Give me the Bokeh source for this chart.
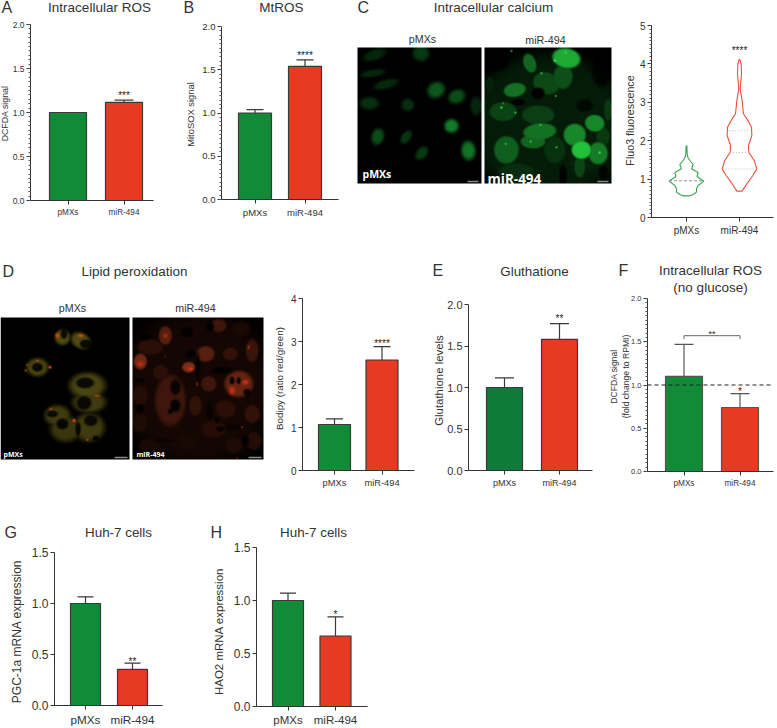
import numpy as np
from bokeh.plotting import figure
from bokeh.layouts import row, column
from bokeh.core.properties import value
from bokeh.models import (Range1d, FixedTicker, Whisker, TeeHead, Label,
                          ColumnDataSource, Span)
from bokeh.embed import file_html
from bokeh.resources import INLINE

# ---------- data ----------
groups = ["pMXs", "miR-494"]
a_vals, a_errs = [1.0, 1.115], [1.0, 1.14]
b_vals, b_errs = [1.0, 1.54], [1.04, 1.615]
d_vals, d_errs = [1.07, 2.57], [1.2, 2.88]
e_vals, e_errs = [1.0, 1.58], [1.115, 1.77]
f_vals, f_errs = [1.1, 0.74], [1.47, 0.9]
g_vals, g_errs = [1.0, 0.355], [1.065, 0.415]
h_vals, h_errs = [1.0, 0.665], [1.07, 0.845]

violin_green_y = [1.866, 1.658, 1.571, 1.484, 1.380, 1.267, 1.172, 1.068, 0.946, 0.833, 0.747, 0.660, 0.599, 0.564]
violin_green_w = [.006, .013, .025, .063, .126, .094, .22, .2, .327, .22, .189, .189, .126, .063]
violin_red_y = [4.115, 4.00, 3.74, 3.35, 3.05, 2.70, 2.53, 2.35, 2.135, 1.875, 1.70, 1.484, 1.267, 1.094, 0.877, 0.686]
violin_red_w = [.006, .031, .038, .013, .05, .075, .157, .226, .233, .17, .176, .277, .327, .252, .138, .05]
green_median, green_median_w = 0.955, .33
red_quart = [2.26, 1.695, 1.265]
red_quart_w = [.2, .18, .32]

GREEN, DGREEN, RED = "#128a38", "#0f7a3a", "#e63a22"
INK = "#333333"
FONT = "Liberation Sans"
W, H = 777, 728


def new_fig(box, frame=None):
    x0, x1, y0, y1 = box
    fx0, fx1, ft, fb = frame if frame else box
    p = figure(width=x1 - x0, height=y1 - y0, output_backend="svg", toolbar_location=None,
               min_border_left=fx0 - x0, min_border_right=x1 - fx1,
               min_border_top=ft - y0, min_border_bottom=y1 - fb)
    p.frame_align = False
    return p


# a transparent sheet over the whole page that carries titles, panel letters and axis titles
sheet = new_fig((0, W, 0, H))
sheet.x_range = Range1d(0, W)
sheet.y_range = Range1d(0, H)
sheet.axis.visible = False
sheet.grid.visible = False
sheet.outline_line_color = None
sheet.background_fill_color = None
sheet.border_fill_color = None
sheet.styles = {"position": "absolute", "left": "0px", "top": "0px", "z-index": "10", "pointer-events": "none"}


def text(s, x, y, size, align="center", color=INK, bold=False, font=FONT, angle=0):
    sheet.add_layout(Label(x=x, y=H - y, x_units="data", y_units="data", text=s,
                           text_font=font, text_font_size=f"{size}px", text_align=align,
                           text_baseline="middle", text_color=color, angle=angle,
                           text_font_style="bold" if bold else "normal"))


def chart(box, frame, centers, ymax, interval, minors, tick_fs, x_fs, ylab, ylab_fs, ylab_x, ylab_y):
    p = new_fig(box, frame)
    c1, c2 = centers
    s = c2 - c1
    p.x_range = Range1d((frame[0] - c1) / s, (frame[1] - c1) / s)
    p.y_range = Range1d(0, ymax)
    p.grid.visible = False
    p.outline_line_color = None
    xa, ya = p.xaxis[0], p.yaxis[0]
    xa.ticker = FixedTicker(ticks=[0, 1])
    xa.major_label_overrides = {0: groups[0], 1: groups[1]}
    n_major = int(round(ymax / interval))
    majors = [round(i * interval, 3) for i in range(n_major + 1)]
    minor_list = [round(i * interval / minors, 4) for i in range(n_major * minors + 1)] if minors else []
    ya.ticker = FixedTicker(ticks=majors, minor_ticks=minor_list)
    if interval < 1:
        ya.major_label_overrides = {m: f"{m:.1f}" for m in majors}
    for ax in (xa, ya):
        ax.axis_line_color = INK
        ax.axis_line_width = 1
        ax.major_tick_line_color = INK
        ax.minor_tick_line_color = "#555555"
        ax.minor_tick_line_width = 1
        ax.major_tick_out = 4
        ax.major_tick_in = 0
        ax.minor_tick_out = 2
        ax.minor_tick_in = 0
        ax.major_label_text_font = FONT
        ax.major_label_text_color = INK
    xa.minor_tick_line_color = None
    xa.major_label_text_font_size = f"{x_fs}px"
    xa.major_label_standoff = 3
    ya.major_label_text_font_size = f"{tick_fs}px"
    ya.major_label_standoff = 2
    for line, lx in zip(ylab, ylab_x):
        text(line, lx, ylab_y, ylab_fs, angle=np.pi / 2)
    return p


def stars_at(p, xs, ys, labels, off, fs=10):
    p.text(x=xs, y=ys, text=labels, text_align="center", text_baseline="alphabetic", y_offset=off,
           text_font=value(FONT), text_font_size=f"{fs}px", text_color="#222222")


def bars(p, centers, bw, vals, errs, star, colors, cap, off, line="#3a3a3a"):
    s = centers[1] - centers[0]
    p.vbar(x=[0, 1], top=vals, width=bw / s, fill_color=colors, line_color=line, line_width=1.2)
    src = ColumnDataSource(dict(x=[0, 1], lo=vals, up=errs))
    p.add_layout(Whisker(source=src, base="x", lower="lo", upper="up", line_color=line, line_width=1.2,
                         upper_head=TeeHead(size=cap, line_color=line, line_width=1.2), lower_head=None))
    stars_at(p, [1], [errs[1]], [star], off)


# ---------- row 1 ----------
R1 = 0, 240
box = (0, 180) + R1
fr = (30, 153, 24, 200)
pA = chart(box, fr, (67.5, 123.5), 2, .5, 10, 8.5, 8.2, ["DCFDA signal"], 8.8, [4.5], 113)
bars(pA, (67.5, 123.5), 37, a_vals, a_errs, "***", [GREEN, RED], 19, -5)
text("A", 1, 7, 16, "left")
text("Intracellular ROS", 99, 7, 13.5)

box = (180, 345) + R1
fr = (221, 338, 26, 199)
pB = chart(box, fr, (254.5, 304.5), 2, .5, 10, 9.6, 9.5, ["MitoSOX signal"], 9.4, [190], 114)
bars(pB, (254.5, 304.5), 33, b_vals, b_errs, "****", [GREEN, RED], 17, -4)
text("B", 183, 7, 16, "left")
text("MtROS", 281, 7, 13.5)


def paint(shape, layers):
    h, w = shape
    yy, xx = np.mgrid[0:h, 0:w].astype(float)
    xx = (xx + .5) * 1.5
    yy = (yy + .5) * 1.5
    img = np.zeros((h, w, 3))
    for mode, color, edge, cells in layers:
        color = np.array(color, float)
        for (cx, cy, a, b, ang, br) in cells:
            t = np.radians(ang)
            dx, dy = xx - cx, yy - cy
            u = (dx * np.cos(t) + dy * np.sin(t)) / a
            v = (-dx * np.sin(t) + dy * np.cos(t)) / b
            r = np.sqrt(u * u + v * v)
            f = np.clip((1 - r) / edge, 0, 1)
            f = (f * f * (3 - 2 * f))[..., None]
            if mode == "max":
                img = np.maximum(img, f * color * br)
            elif mode == "dark":
                img = img * (1 - f * br)
            else:
                img = img * (1 - f * br) + color * f * br
    rgba = np.zeros((h, w), dtype=np.uint32)
    v = rgba.view(np.uint8).reshape(h, w, 4)
    v[..., :3] = np.clip(img, 0, 255).astype(np.uint8)
    v[..., 3] = 255
    return rgba[::-1]


def micro(p, ix0, ix1, iy0, iy1, layers):
    w, h = ix1 - ix0, iy1 - iy0
    arr = paint((h * 2, w * 2), layers)
    p.image_rgba(image=[arr], x=ix0, y=H - iy1, dw=w, dh=h)


def scalebar(p, x0, x1, y):
    p.line([x0, x1], [H - y, H - y], line_color="#8a8a8a", line_width=1.5)


def image_fig(box):
    p = new_fig(box)
    p.x_range = Range1d(box[0], box[1])
    p.y_range = Range1d(H - box[3], H - box[2])
    p.axis.visible = False
    p.grid.visible = False
    p.outline_line_color = None
    return p


GLOW = (40, 225, 70)
GLOW_DIM = (30, 190, 62)
c_left = [(50, 23, 50, 22, -20, .2), (190, 18, 34, 32, 0, .3), (45, 78, 52, 16, -10, .2), (85, 111, 52, 19, -15, .22),
          (35, 168, 40, 26, 0, .25), (150, 173, 26, 26, 0, .25), (235, 128, 37, 32, -30, .45), (297, 148, 36, 28, -25, .4),
          (355, 176, 24, 38, 0, .2), (281, 236, 29, 28, 0, .65), (60, 268, 26, 34, 15, .4), (145, 270, 19, 31, 35, .28),
          (192, 318, 21, 32, 40, .3), (332, 310, 29, 39, -5, .6), (75, 393, 18, 12, 0, .15)]
c_right = [(190, 240, 280, 260, 0, .12), (135, 48, 22, 35, -20, .45), (245, 33, 50, 35, 10, .75), (235, 88, 35, 45, 0, .35),
           (185, 108, 50, 40, 20, .32), (90, 128, 40, 25, -10, .5), (55, 193, 50, 35, 0, .3), (160, 203, 60, 35, 0, .28),
           (305, 128, 35, 50, 0, .12), (165, 253, 60, 30, -5, .5), (65, 308, 45, 50, 0, .42), (210, 308, 40, 50, 0, .22),
           (145, 283, 45, 25, 0, .45), (270, 263, 40, 40, -20, .6), (290, 308, 35, 32, 0, .85), (340, 318, 35, 40, 0, .55),
           (330, 228, 35, 30, 10, .6), (285, 358, 20, 40, 0, .3), (370, 188, 15, 40, 0, .25), (355, 268, 25, 35, 0, .25),
           (95, 373, 70, 30, 0, .2), (15, 113, 15, 30, 0, .15), (305, 348, 70, 25, 0, .15)]
c_right_dark = [(160, 138, 24, 21, 0, 1), (100, 165, 26, 12, 0, .9), (30, 40, 55, 40, 0, 1), (350, 70, 35, 60, 0, .8),
                (235, 385, 14, 40, 0, .9), (300, 175, 30, 22, 0, .7), (355, 375, 16, 26, 0, .8)]
c_right_spots = [(80, 11, 4, 4, 0, 1), (243, 16, 4, 4, 0, 1), (210, 40, 5, 5, 0, 1), (170, 78, 4, 4, 0, 1), (213, 146, 4, 4, 0, 1),
                 (50, 181, 5, 5, 0, 1), (92, 196, 4, 4, 0, 1), (55, 168, 3, 3, 0, 1), (167, 233, 4, 4, 0, 1), (138, 283, 4, 4, 0, 1),
                 (63, 290, 4, 4, 0, 1), (215, 300, 4, 4, 0, 1), (345, 316, 5, 5, 0, 1)]

box = (345, 618) + R1
pC = image_fig(box)
micro(pC, 357, 481, 47, 183, [("max", GLOW_DIM, .6, c_left)])
micro(pC, 484, 611, 47, 183, [("max", GLOW, .3, c_right), ("dark", GLOW, .4, c_right_dark), ("over", (70, 255, 90), .8, c_right_spots)])
scalebar(pC, 467, 478, 181)
scalebar(pC, 597, 608, 181)
text("C", 357, 7, 16, "left")
text("Intracellular calcium", 493, 7, 13.5)
text(groups[0], 422, 38, 10.7)
text(groups[1], 545, 39, 10.7)
text(groups[0], 362, 173, 10.5, "left", "white", True, "Open Sans")
text(groups[1], 487, 178, 13.5, "left", "white", True, "Open Sans")

box = (618, 777) + R1
fr = (651, 773, 25, 217)
cent = (686, 739)
pV = chart(box, fr, cent, 5, 1, 10, 10, 10, ["Fluo3 fluorescence"], 10.7, [629], 120)
for c, ys, ws, col in ((0, violin_green_y, violin_green_w, "#37a34f"), (1, violin_red_y, violin_red_w, "#ef4f3a")):
    ys, ws = np.array(ys), np.array(ws)
    xs = np.concatenate([c - ws, (c + ws)[::-1]])
    yy = np.concatenate([ys, ys[::-1]])
    p_x, p_y = list(xs) + [xs[0]], list(yy) + [yy[0]]
    pV.line(p_x, p_y, line_color=col, line_width=1.1)
pV.segment(x0=[-green_median_w], x1=[green_median_w], y0=[green_median], y1=[green_median],
           line_color="#8f8f8f", line_dash="3 2", line_width=1)
pV.segment(x0=[1 - w for w in red_quart_w], x1=[1 + w for w in red_quart_w], y0=red_quart, y1=red_quart,
           line_color="#b5bfae", line_dash="1 2", line_width=1)
stars_at(pV, [1], [violin_red_y[0]], ["****"], -9)

# ---------- row 2 ----------
R2 = 240, 490
d_left = [(185, 60, 30, 30, 0, .75), (240, 70, 40, 30, 30, .75), (110, 150, 42, 35, 0, .7), (260, 205, 70, 50, 0, .7),
          (265, 255, 65, 40, 0, .6), (170, 295, 50, 40, 0, .6), (195, 335, 60, 50, 0, .55), (265, 330, 60, 55, 0, .6)]
d_left_nuc = [(190, 50, 12, 18, 0, .85), (255, 80, 22, 16, 0, .85), (110, 150, 20, 16, 0, .85), (253, 197, 33, 20, 0, .85),
              (250, 257, 27, 25, 0, .85), (155, 290, 20, 12, 0, .85), (185, 320, 22, 20, 0, .85), (270, 310, 25, 20, 0, .85),
              (232, 335, 10, 25, 0, .85), (285, 363, 12, 10, 0, .85)]
d_left_spots = [(170, 55, 9, 11, 0, .8), (240, 55, 13, 7, 0, .8), (80, 143, 4, 4, 0, .9), (75, 160, 5, 5, 0, .9), (110, 130, 5, 4, 0, .9),
                (148, 150, 7, 7, 0, .95), (220, 310, 7, 7, 0, 1), (260, 368, 5, 5, 0, .9), (290, 235, 16, 6, 0, .5), (150, 275, 9, 5, 0, .6)]
d_right = [(195, 215, 280, 290, 0, .16), (98, 55, 25, 35, 0, .7), (23, 133, 25, 30, 0, .9), (258, 25, 30, 25, 0, .5), (218, 110, 35, 30, 0, .7), (168, 150, 25, 20, 0, 1),
           (53, 90, 50, 30, 0, .35), (293, 110, 30, 25, 0, .4), (358, 100, 25, 45, 0, .45), (83, 165, 30, 30, 0, .35),
           (113, 250, 60, 100, 0, .5), (228, 200, 30, 30, 0, .5), (318, 200, 55, 50, 0, .8), (358, 290, 30, 35, 0, .4),
           (278, 275, 40, 35, 0, .35), (188, 265, 25, 40, 0, .4), (23, 235, 30, 40, 0, .3), (23, 315, 30, 40, 0, .25),
           (243, 335, 50, 35, 0, .3), (363, 370, 30, 35, 0, .3), (303, 385, 35, 30, 0, .25), (163, 375, 40, 30, 0, .2),
           (53, 385, 45, 30, 0, .2), (323, 35, 40, 30, 0, .2)]
d_right_nuc = [(38, 60, 20, 13, 0, .85), (163, 45, 25, 20, 0, .85), (233, 30, 15, 20, 0, .85), (128, 210, 20, 30, 0, .85),
               (128, 265, 20, 25, 0, .9), (113, 282, 10, 10, 0, .9), (298, 190, 10, 15, 0, .9), (318, 190, 8, 13, 0, .9),
               (343, 225, 15, 13, 0, .9), (173, 110, 20, 15, 0, .85), (23, 275, 15, 20, 0, .85), (338, 370, 15, 18, 0, .85),
               (253, 310, 10, 10, 0, .85), (263, 335, 15, 10, 0, .85), (195, 150, 10, 60, 0, .7), (270, 160, 40, 14, 0, .8),
               (20, 190, 20, 10, 0, .7), (230, 280, 12, 40, 0, .6), (90, 370, 40, 8, 0, .5), (300, 330, 35, 10, 0, .6)]
d_right_spots = [(298, 220, 15, 20, 0, .7), (338, 195, 15, 12, 0, .8), (173, 155, 12, 8, 0, .85), (23, 140, 15, 12, 0, .65),
                 (98, 55, 10, 12, 0, .55), (328, 330, 4, 4, 0, 1), (313, 422, 3, 3, 0, 1), (193, 200, 2, 10, 0, .9),
                 (98, 118, 3, 3, 0, .9), (348, 90, 5, 10, 0, .7)]

box = (0, 268) + R2
pD = image_fig(box)
micro(pD, 0, 129, 317, 459, [("max", (105, 98, 25), .5, d_left), ("dark", (0, 0, 0), .4, d_left_nuc), ("over", (235, 75, 20), .8, d_left_spots)])
micro(pD, 132, 263, 317, 459, [("max", (125, 45, 22), .4, d_right), ("dark", (0, 0, 0), .5, d_right_nuc), ("over", (235, 50, 25), .9, d_right_spots)])
scalebar(pD, 114, 127, 457)
scalebar(pD, 248, 261, 457)
text("D", 2, 271, 16, "left")
text("Lipid peroxidation", 134, 271, 13.5)
text(groups[0], 72, 307, 10.7)
text(groups[1], 195, 307, 10.7)
text(groups[0], 3, 454, 7, "left", "white", True, "Open Sans")
text(groups[1], 136, 454, 7, "left", "white", True, "Open Sans")

box = (268, 425) + R2
fr = (302, 414, 298, 472)
cent = (334, 381.5)
pD2 = chart(box, fr, cent, 4, 1, 0, 10, 9.3, ["Bodipy (ratio red/green)"], 9.8, [279], 378)
bars(pD2, cent, 32, d_vals, d_errs, "****", [GREEN, RED], 17, -3)

box = (425, 605) + R2
fr = (468, 592, 304, 474)
cent = (504, 559)
pE = chart(box, fr, cent, 2, .5, 0, 11, 9, ["Glutathione levels"], 11.4, [438], 380)
bars(pE, cent, 36, e_vals, e_errs, "**", [DGREEN, RED], 19, -5)
text("E", 432, 270, 16, "left")
text("Gluthatione", 534, 271, 13.4)

box = (605, 777) + R2
fr = (647, 773, 298, 473)
cent = (683.5, 739.5)
pF = chart(box, fr, cent, 2, .5, 10, 7.5, 8.2, ["DCFDA signal", "(fold change to RPMI)"], 8.6, [613, 625], 376)
bars(pF, cent, 37, f_vals, f_errs, "*", [GREEN, RED], 19, -2, line="#555555")
pF.add_layout(Span(location=1.0, dimension="width", line_color="#222222", line_dash="4 3", line_width=1))
pF.line([0, 0, 1, 1], [1.53, 1.57, 1.57, 1.53], line_color="#666666", line_width=1)
stars_at(pF, [.5], [1.57], ["**"], -2, 9)
text("F", 618, 270, 16, "left")
text("Intracellular ROS", 710, 270, 13.5)
text("(no glucose)", 710, 287, 13.5)

# ---------- row 3 ----------
R3 = 490, 728
box = (0, 205) + R3
fr = (54, 162, 552, 709)
cent = (85, 132)
pG = chart(box, fr, cent, 1.5, .5, 0, 12, 11.7, ["PGC-1a mRNA expression"], 12, [16], 631)
bars(pG, cent, 30, g_vals, g_errs, "**", [GREEN, RED], 16, -2)
text("G", 4, 532, 16, "left")
text("Huh-7 cells", 118, 532, 13.4)

box = (205, 777) + R3
fr = (256, 367, 547, 707)
cent = (287.5, 335)
pH = chart(box, fr, cent, 1.5, .5, 0, 12, 11.5, ["HAO2 mRNA expression"], 11.5, [218], 631)
bars(pH, cent, 31, h_vals, h_errs, "*", [GREEN, RED], 16, -2)
text("H", 210, 532, 16, "left")
text("Huh-7 cells", 313, 532, 13.4)

page = column(row(pA, pB, pC, pV), row(pD, pD2, pE, pF), row(pG, pH), sheet)
open("out.html", "w").write(file_html(page, INLINE))
